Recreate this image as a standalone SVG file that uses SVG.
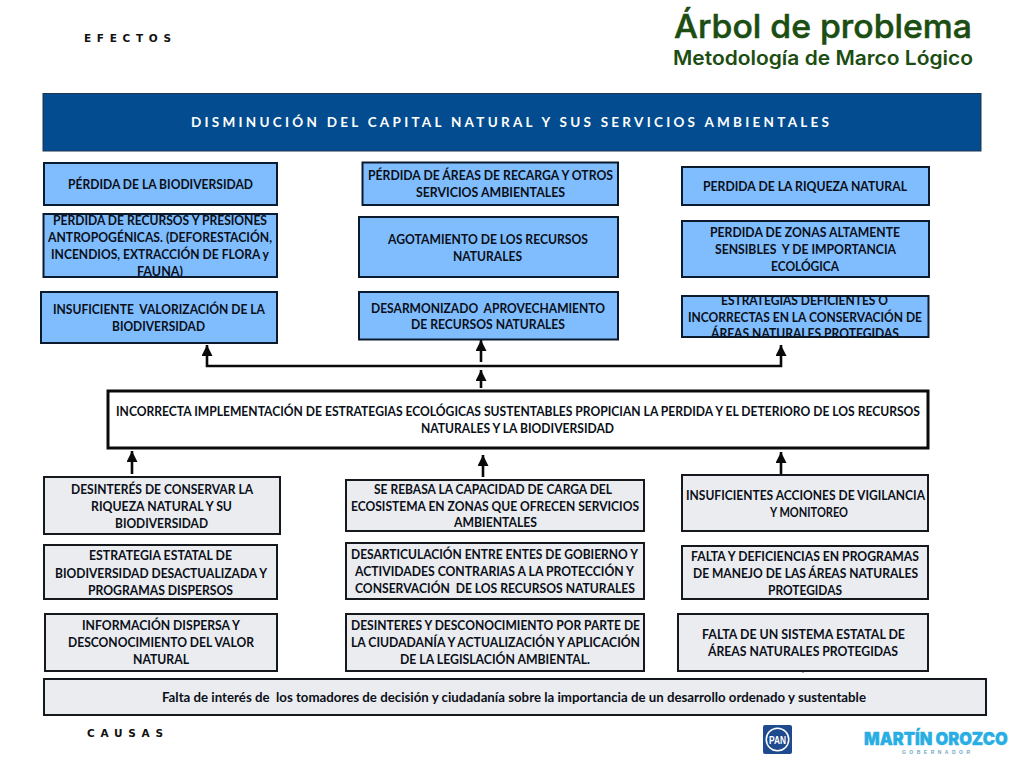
<svg xmlns="http://www.w3.org/2000/svg" width="1024" height="768" viewBox="0 0 1024 768">
<style>
.b{fill:#80bdff;stroke:#0b1a2c;stroke-width:2}
.g{fill:#ebecf0;stroke:#15181c;stroke-width:2}
.w{fill:#fff;stroke:#0a0a0a;stroke-width:3}
text{font-family:"Lato","Liberation Sans",sans-serif;font-weight:700;white-space:pre}
.t{font-size:13px;fill:#0a0f18}
.l{font-family:"DejaVu Sans","Liberation Sans",sans-serif;font-size:10.5px;fill:#111}
.h{font-family:"Inter","Liberation Sans",sans-serif;fill:#1c4d12}
.c{fill:none;stroke:#0a0a0a;stroke-width:2.6}
</style>
<defs>
<marker id="ah" markerUnits="userSpaceOnUse" markerWidth="13" markerHeight="13" refX="11" refY="5.500" orient="auto-start-reverse"><path d="M0 0L11 5.500L0 11Z" fill="#0a0a0a"/></marker>
<clipPath id="c9"><rect x="682" y="296" width="247" height="41"/></clipPath>
</defs>
<rect width="1024" height="768" fill="#fff"/>
<g id="labels">
<text class="l" x="84" y="42" textLength="87" lengthAdjust="spacing">EFECTOS</text>
<text class="l" x="87" y="737" textLength="76" lengthAdjust="spacing">CAUSAS</text>
</g>
<g id="title">
<text class="h" x="674" y="38" font-size="33" textLength="298" lengthAdjust="spacingAndGlyphs" stroke="#1c4d12" stroke-width="0.5" style="font-weight:500">Árbol de problema</text>
<text class="h" x="673" y="65" font-size="19.5" textLength="300" lengthAdjust="spacingAndGlyphs" style="font-weight:600">Metodología de Marco Lógico</text>
</g>
<g id="connectors">
<path class="c" d="M207 345V366H781V345" marker-start="url(#ah)" marker-end="url(#ah)"/>
<path class="c" d="M481 362V340" marker-end="url(#ah)"/>
<path class="c" d="M481 388V370" marker-end="url(#ah)"/>
<path class="c" d="M132 474V451" marker-end="url(#ah)"/>
<path class="c" d="M483 477V455" marker-end="url(#ah)"/>
<path class="c" d="M781 475V452" marker-end="url(#ah)"/>
<path d="M803 671V673" stroke="#555" stroke-width="1"/>
</g>
<g id="banner"><rect x="43" y="93.500" width="938" height="57.500" fill="#034c90" stroke="#1c3550" stroke-width="1"/>
<text x="191" y="127" font-size="13.500" fill="#fff" textLength="638" lengthAdjust="spacing">DISMINUCIÓN DEL CAPITAL NATURAL Y SUS SERVICIOS AMBIENTALES</text></g>
<g id="e1"><rect class="b" x="44" y="163" width="233" height="42"/>
<text class="t" x="68" y="189" textLength="185" lengthAdjust="spacingAndGlyphs">PÉRDIDA DE LA BIODIVERSIDAD</text></g>
<g id="e2"><rect class="b" x="43.500" y="214" width="233.500" height="63"/>
<text class="t" x="53" y="225" textLength="214" lengthAdjust="spacingAndGlyphs">PERDIDA DE RECURSOS Y PRESIONES</text>
<text class="t" x="48" y="242" textLength="224" lengthAdjust="spacingAndGlyphs">ANTROPOGÉNICAS. (DEFORESTACIÓN,</text>
<text class="t" x="51" y="259" textLength="218" lengthAdjust="spacingAndGlyphs">INCENDIOS, EXTRACCIÓN DE FLORA y</text>
<text class="t" x="137" y="276" textLength="46" lengthAdjust="spacingAndGlyphs">FAUNA)</text></g>
<g id="e3"><rect class="b" x="41" y="292" width="236" height="51"/>
<text class="t" x="53" y="314" textLength="212" lengthAdjust="spacingAndGlyphs">INSUFICIENTE  VALORIZACIÓN DE LA</text>
<text class="t" x="112" y="331" textLength="93" lengthAdjust="spacingAndGlyphs">BIODIVERSIDAD</text></g>
<g id="e4"><rect class="b" x="362.500" y="162.500" width="255.500" height="42.500"/>
<text class="t" x="368" y="180" textLength="245" lengthAdjust="spacingAndGlyphs">PÉRDIDA DE ÁREAS DE RECARGA Y OTROS</text>
<text class="t" x="416" y="197" textLength="149" lengthAdjust="spacingAndGlyphs">SERVICIOS AMBIENTALES</text></g>
<g id="e5"><rect class="b" x="359" y="217" width="259" height="60"/>
<text class="t" x="388" y="244" textLength="200" lengthAdjust="spacingAndGlyphs">AGOTAMIENTO DE LOS RECURSOS</text>
<text class="t" x="453" y="261" textLength="69" lengthAdjust="spacingAndGlyphs">NATURALES</text></g>
<g id="e6"><rect class="b" x="359" y="292" width="259" height="47.500"/>
<text class="t" x="371" y="313" textLength="234" lengthAdjust="spacingAndGlyphs">DESARMONIZADO  APROVECHAMIENTO</text>
<text class="t" x="411" y="329" textLength="154" lengthAdjust="spacingAndGlyphs">DE RECURSOS NATURALES</text></g>
<g id="e7"><rect class="b" x="682" y="167" width="247" height="38"/>
<text class="t" x="703" y="191" textLength="204" lengthAdjust="spacingAndGlyphs">PERDIDA DE LA RIQUEZA NATURAL</text></g>
<g id="e8"><rect class="b" x="682" y="221" width="247" height="56"/>
<text class="t" x="710" y="237" textLength="190" lengthAdjust="spacingAndGlyphs">PERDIDA DE ZONAS ALTAMENTE</text>
<text class="t" x="715" y="254" textLength="181" lengthAdjust="spacingAndGlyphs">SENSIBLES  Y DE IMPORTANCIA</text>
<text class="t" x="771" y="271" textLength="68" lengthAdjust="spacingAndGlyphs">ECOLÓGICA</text></g>
<g id="e9"><rect class="b" x="682" y="296" width="246.500" height="41"/>
<g clip-path="url(#c9)">
<text class="t" x="721" y="305" textLength="167" lengthAdjust="spacingAndGlyphs">ESTRATEGIAS DEFICIENTES O</text>
<text class="t" x="688" y="321.500" textLength="234" lengthAdjust="spacingAndGlyphs">INCORRECTAS EN LA CONSERVACIÓN DE</text>
<text class="t" x="711" y="338" textLength="188" lengthAdjust="spacingAndGlyphs">ÁREAS NATURALES PROTEGIDAS</text></g></g>
<g id="central"><rect class="w" x="108" y="391" width="820" height="57"/>
<text class="t" x="116" y="416" textLength="804" lengthAdjust="spacingAndGlyphs">INCORRECTA IMPLEMENTACIÓN DE ESTRATEGIAS ECOLÓGICAS SUSTENTABLES PROPICIAN LA PERDIDA Y EL DETERIORO DE LOS RECURSOS</text>
<text class="t" x="421" y="433" textLength="193" lengthAdjust="spacingAndGlyphs">NATURALES Y LA BIODIVERSIDAD</text></g>
<g id="c1"><rect class="g" x="44" y="477" width="236" height="57"/>
<text class="t" x="71" y="494" textLength="182" lengthAdjust="spacingAndGlyphs">DESINTERÉS DE CONSERVAR LA</text>
<text class="t" x="91" y="511" textLength="141" lengthAdjust="spacingAndGlyphs">RIQUEZA NATURAL Y SU</text>
<text class="t" x="115" y="528" textLength="93" lengthAdjust="spacingAndGlyphs">BIODIVERSIDAD</text></g>
<g id="c2"><rect class="g" x="44" y="545" width="233" height="54"/>
<text class="t" x="89" y="560" textLength="143" lengthAdjust="spacingAndGlyphs">ESTRATEGIA ESTATAL DE</text>
<text class="t" x="55" y="577.500" textLength="212" lengthAdjust="spacingAndGlyphs">BIODIVERSIDAD DESACTUALIZADA Y</text>
<text class="t" x="88" y="594.500" textLength="145" lengthAdjust="spacingAndGlyphs">PROGRAMAS DISPERSOS</text></g>
<g id="c3"><rect class="g" x="45" y="614" width="232" height="57"/>
<text class="t" x="82" y="630" textLength="158" lengthAdjust="spacingAndGlyphs">INFORMACIÓN DISPERSA Y</text>
<text class="t" x="68" y="647" textLength="186" lengthAdjust="spacingAndGlyphs">DESCONOCIMIENTO DEL VALOR</text>
<text class="t" x="133" y="664" textLength="56" lengthAdjust="spacingAndGlyphs">NATURAL</text></g>
<g id="c4"><rect class="g" x="346" y="480" width="298" height="51"/>
<text class="t" x="374" y="494" textLength="238" lengthAdjust="spacingAndGlyphs">SE REBASA LA CAPACIDAD DE CARGA DEL</text>
<text class="t" x="351" y="510.500" textLength="288" lengthAdjust="spacingAndGlyphs">ECOSISTEMA EN ZONAS QUE OFRECEN SERVICIOS</text>
<text class="t" x="454" y="527" textLength="83" lengthAdjust="spacingAndGlyphs">AMBIENTALES</text></g>
<g id="c5"><rect class="g" x="346" y="543" width="298" height="56"/>
<text class="t" x="351" y="558.500" textLength="287" lengthAdjust="spacingAndGlyphs">DESARTICULACIÓN ENTRE ENTES DE GOBIERNO Y</text>
<text class="t" x="355" y="576" textLength="279" lengthAdjust="spacingAndGlyphs">ACTIVIDADES CONTRARIAS A LA PROTECCIÓN Y</text>
<text class="t" x="355" y="593" textLength="280" lengthAdjust="spacingAndGlyphs">CONSERVACIÓN  DE LOS RECURSOS NATURALES</text></g>
<g id="c6"><rect class="g" x="346" y="614" width="298" height="57"/>
<text class="t" x="351" y="630" textLength="289" lengthAdjust="spacingAndGlyphs">DESINTERES Y DESCONOCIMIENTO POR PARTE DE</text>
<text class="t" x="351" y="647" textLength="289" lengthAdjust="spacingAndGlyphs">LA CIUDADANÍA Y ACTUALIZACIÓN Y APLICACIÓN</text>
<text class="t" x="400" y="664" textLength="190" lengthAdjust="spacingAndGlyphs">DE LA LEGISLACIÓN AMBIENTAL.</text></g>
<g id="c7"><rect class="g" x="682" y="475" width="246" height="56"/>
<text class="t" x="686" y="500" textLength="239" lengthAdjust="spacingAndGlyphs">INSUFICIENTES ACCIONES DE VIGILANCIA</text>
<text class="t" x="770" y="517" textLength="78" lengthAdjust="spacingAndGlyphs">Y MONITOREO</text></g>
<g id="c8"><rect class="g" x="682" y="546" width="246" height="53"/>
<text class="t" x="691" y="561" textLength="228" lengthAdjust="spacingAndGlyphs">FALTA Y DEFICIENCIAS EN PROGRAMAS</text>
<text class="t" x="693" y="578" textLength="225" lengthAdjust="spacingAndGlyphs">DE MANEJO DE LAS ÁREAS NATURALES</text>
<text class="t" x="768" y="595" textLength="74" lengthAdjust="spacingAndGlyphs">PROTEGIDAS</text></g>
<g id="c9b"><rect class="g" x="678" y="614" width="250" height="57"/>
<text class="t" x="702" y="639" textLength="203" lengthAdjust="spacingAndGlyphs">FALTA DE UN SISTEMA ESTATAL DE</text>
<text class="t" x="708" y="656" textLength="190" lengthAdjust="spacingAndGlyphs">ÁREAS NATURALES PROTEGIDAS</text></g>
<g id="root"><rect class="g" x="44" y="679" width="942" height="36"/>
<text x="162" y="702" font-size="13.500" fill="#0a0f18" textLength="704" lengthAdjust="spacingAndGlyphs">Falta de interés de  los tomadores de decisión y ciudadanía sobre la importancia de un desarrollo ordenado y sustentable</text></g>
<g id="logo-pan"><rect x="763" y="725" width="29" height="29" rx="2" fill="#1f4b8e"/><circle cx="777.500" cy="739.500" r="12" fill="#fff"/><circle cx="777.500" cy="739.500" r="10.500" fill="#1f4b8e"/>
<text x="769" y="744" font-size="11" fill="#fff" textLength="17" lengthAdjust="spacingAndGlyphs" style="font-family:'Liberation Sans',sans-serif">PAN</text></g>
<g id="logo-mo">
<text transform="translate(864 745) scale(0.84 1)" font-size="17.500" fill="#29aee3" textLength="171" lengthAdjust="spacingAndGlyphs" stroke="#29aee3" stroke-width="0.4" style="font-family:'Inter','Liberation Sans',sans-serif;font-weight:900">MARTÍN OROZCO</text>
<text x="902" y="754" font-size="5" fill="#6fa9c4" textLength="68" lengthAdjust="spacing" style="font-family:'Liberation Sans',sans-serif">GOBERNADOR</text></g>
</svg>
